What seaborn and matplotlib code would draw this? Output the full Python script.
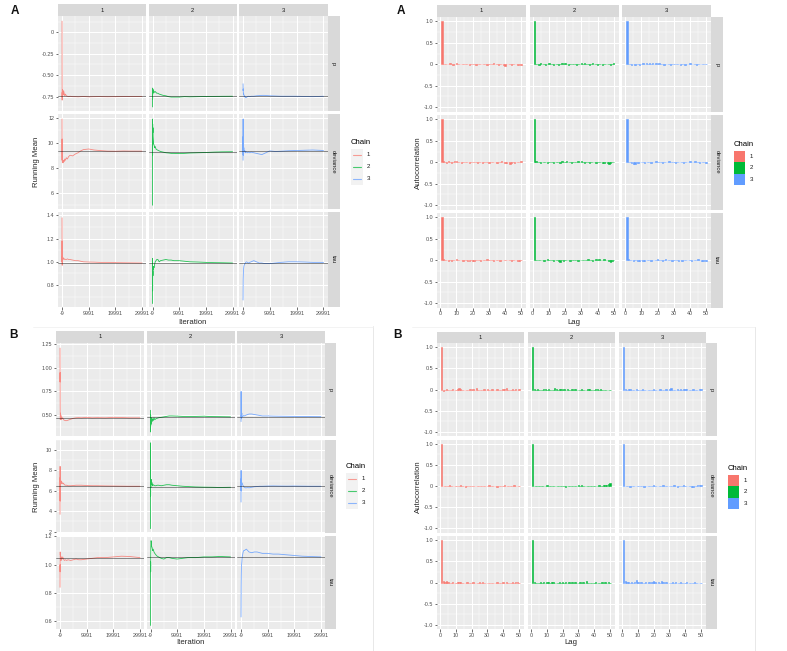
import numpy as np
import pandas as pd
import matplotlib
matplotlib.use("Agg")
import matplotlib.pyplot as plt
from matplotlib.patches import Rectangle
from matplotlib.lines import Line2D
import seaborn as sns

sns.set_theme(style="white")
plt.rcParams["font.family"] = ["Liberation Sans", "DejaVu Sans"]

W, H = 787, 651

# ---------------- data ----------------
CHAINS = ["1", "2", "3"]
PARAMS = ["p", "deviance", "tau"]
CHAIN_COLORS = ["#F8766D", "#00BA38", "#619CFF"]

ITER_TICKS = [-9, 9991, 19991, 29991]
ITER_TICK_LABELS = ["-9", "9991", "19991", "29991"]
LAG_TICKS = [0, 10, 20, 30, 40, 50]
ACF_TICKS = [-1.0, -0.5, 0.0, 0.5, 1.0]
ACF_TICK_LABELS = ["-1.0", "-0.5", "0", "0.5", "1.0"]

ITER = [1, 20, 40, 60, 100, 150, 200, 300, 400, 600, 800, 1000, 1300, 1600, 2000,
        2500, 3000, 4000, 5000, 6000, 7000, 8000, 10000, 12000, 14000, 17000, 20000,
        23000, 26000, 30000]

# ---- Panel A, running means ----
A_P_1 = [0.13, -0.40, -0.79, -0.70, -0.76, -0.72, -0.67, -0.70, -0.73, -0.68, -0.71, -0.74, -0.72, -0.74, -0.745,
         -0.75, -0.745, -0.75, -0.75, -0.752, -0.75, -0.748, -0.752, -0.75, -0.749, -0.751, -0.75, -0.749, -0.748, -0.747]
A_P_2 = [-0.87, -0.65, -0.78, -0.69, -0.72, -0.66, -0.70, -0.68, -0.70, -0.69, -0.70, -0.69, -0.70, -0.71, -0.71,
         -0.72, -0.725, -0.735, -0.74, -0.75, -0.755, -0.755, -0.755, -0.75, -0.752, -0.75, -0.748, -0.747, -0.746, -0.745]
A_P_3 = [-0.60, -0.64, -0.68, -0.66, -0.70, -0.72, -0.71, -0.73, -0.75, -0.74, -0.76, -0.755, -0.76, -0.75, -0.745,
         -0.75, -0.745, -0.745, -0.74, -0.738, -0.735, -0.735, -0.74, -0.742, -0.745, -0.745, -0.745, -0.748, -0.75, -0.745]
A_DEV_1 = [11.9, 8.6, 10.3, 9.2, 8.6, 8.4, 8.6, 8.5, 8.4, 8.6, 8.5, 8.7, 8.6, 8.8, 8.7,
           8.9, 9.0, 8.95, 9.1, 9.2, 9.35, 9.45, 9.5, 9.42, 9.38, 9.33, 9.32, 9.34, 9.33, 9.33]
A_DEV_2 = [5.0, 11.9, 9.0, 11.5, 10.8, 11.2, 10.5, 10.2, 9.9, 9.8, 9.6, 9.7, 9.5, 9.45, 9.4,
           9.35, 9.3, 9.25, 9.2, 9.18, 9.15, 9.15, 9.13, 9.15, 9.18, 9.2, 9.22, 9.25, 9.27, 9.28]
A_DEV_3 = [8.6, 11.9, 9.0, 10.5, 9.2, 9.8, 9.4, 9.6, 9.3, 9.4, 9.2, 9.3, 9.25, 9.2, 9.25,
           9.2, 9.25, 9.2, 9.15, 9.1, 9.05, 9.15, 9.35, 9.3, 9.32, 9.36, 9.38, 9.4, 9.42, 9.38]
A_TAU_1 = [1.38, 1.0, 1.18, 0.97, 1.05, 1.03, 1.04, 1.02, 1.035, 1.03, 1.02, 1.025, 1.02, 1.02, 1.025,
           1.02, 1.02, 1.015, 1.01, 1.01, 1.005, 1.0, 0.998, 0.997, 0.995, 0.995, 0.993, 0.992, 0.991, 0.99]
A_TAU_2 = [0.64, 1.03, 0.75, 0.85, 0.92, 0.88, 0.94, 0.93, 0.96, 0.95, 0.98, 1.0, 1.01, 1.02, 1.02,
           1.0, 1.01, 1.015, 1.02, 1.015, 1.015, 1.01, 1.01, 1.005, 1.0, 0.998, 0.995, 0.993, 0.992, 0.99]
A_TAU_3 = [0.67, 0.72, 0.80, 0.85, 0.88, 0.92, 0.94, 0.96, 0.97, 0.98, 0.99, 0.995, 1.0, 0.995, 0.99,
           0.995, 1.0, 1.01, 1.0, 0.99, 0.99, 0.985, 0.985, 0.99, 0.995, 1.0, 1.0, 0.998, 0.995, 0.995]
A_MEAN_P = [-0.745, -0.745, -0.745]
A_MEAN_DEV = [9.33, 9.28, 9.38]
A_MEAN_TAU = [0.99, 0.99, 0.993]

# ---- Panel B, running means ----
B_P_1 = [1.21, 0.85, 0.95, 0.60, 0.45, 0.52, 0.47, 0.50, 0.45, 0.48, 0.46, 0.47, 0.45, 0.445, 0.44,
         0.44, 0.445, 0.455, 0.465, 0.47, 0.472, 0.47, 0.475, 0.47, 0.472, 0.47, 0.475, 0.473, 0.47, 0.47]
B_P_2 = [0.55, 0.32, 0.50, 0.38, 0.46, 0.40, 0.45, 0.42, 0.47, 0.43, 0.46, 0.44, 0.47, 0.45, 0.46,
         0.465, 0.47, 0.475, 0.48, 0.485, 0.49, 0.49, 0.488, 0.485, 0.485, 0.485, 0.487, 0.483, 0.482, 0.48]
B_P_3 = [0.43, 0.75, 0.55, 0.48, 0.50, 0.46, 0.50, 0.52, 0.49, 0.48, 0.49, 0.495, 0.49, 0.495, 0.50,
         0.505, 0.51, 0.51, 0.505, 0.50, 0.495, 0.49, 0.49, 0.488, 0.487, 0.486, 0.485, 0.484, 0.483, 0.482]
B_DEV_1 = [3.7, 8.4, 5.0, 7.3, 6.9, 7.2, 6.8, 7.0, 6.7, 6.9, 6.8, 6.7, 6.75, 6.6, 6.55,
           6.55, 6.5, 6.5, 6.52, 6.55, 6.55, 6.55, 6.52, 6.5, 6.5, 6.48, 6.47, 6.46, 6.45, 6.45]
B_DEV_2 = [2.3, 10.7, 5.5, 7.1, 6.3, 7.0, 6.7, 7.1, 6.6, 6.8, 6.5, 6.6, 6.55, 6.5, 6.5,
           6.55, 6.55, 6.5, 6.55, 6.6, 6.6, 6.55, 6.5, 6.45, 6.42, 6.38, 6.36, 6.35, 6.33, 6.35]
B_DEV_3 = [4.9, 8.0, 6.0, 7.2, 6.8, 6.9, 6.6, 6.8, 6.75, 6.6, 6.5, 6.4, 6.35, 6.3, 6.3,
           6.32, 6.3, 6.35, 6.4, 6.42, 6.45, 6.45, 6.47, 6.48, 6.47, 6.46, 6.47, 6.46, 6.45, 6.45]
B_TAU_1 = [0.84, 1.0, 0.95, 1.09, 1.07, 1.08, 1.05, 1.06, 1.03, 1.05, 1.04, 1.055, 1.04, 1.03, 1.035,
           1.03, 1.035, 1.03, 1.035, 1.04, 1.035, 1.035, 1.04, 1.045, 1.05, 1.05, 1.055, 1.06, 1.058, 1.05]
B_TAU_2 = [0.57, 0.9, 1.02, 0.95, 1.10, 1.15, 1.17, 1.16, 1.13, 1.12, 1.10, 1.11, 1.09, 1.08, 1.07,
           1.06, 1.055, 1.045, 1.04, 1.05, 1.05, 1.045, 1.04, 1.045, 1.05, 1.05, 1.055, 1.055, 1.058, 1.055]
B_TAU_3 = [0.63, 0.70, 0.78, 0.85, 0.92, 0.97, 1.0, 1.02, 1.05, 1.07, 1.09, 1.10, 1.10, 1.105, 1.11,
           1.10, 1.09, 1.085, 1.09, 1.09, 1.085, 1.08, 1.08, 1.075, 1.075, 1.07, 1.065, 1.06, 1.058, 1.055]
B_MEAN_P = [0.47, 0.48, 0.482]
B_MEAN_DEV = [6.45, 6.35, 6.45]
B_MEAN_TAU = [1.05, 1.055, 1.055]

# ---- autocorrelations, lags 1..50, in hundredths ----
LAGS = list(range(1, 51))
ACF_A_P_1 = [100, 1, 0, 1, 0, 2, 0, -1, 1, 2, 1, 0, 0, 1, 0, 1, 0, -1, 0, 1, 0, -2, 0, 1, 0, 0, 1, 0, -1, 0,
             0, 1, 3, 1, 0, -1, 1, 0, -2, -4, 0, 1, 0, -1, 0, 1, 0, -1, 0, -1]
ACF_A_P_2 = [100, 1, 0, -1, 2, 0, 1, -1, 0, 2, 0, 1, -1, 0, 1, -1, 0, 2, 1, 3, 0, -1, 1, 0, 1, 0, -1, 0, 0, 2,
             1, 3, 0, 1, -1, 0, 2, 1, 0, -1, 0, 1, -1, 0, 1, 0, 0, -1, 0, 3]
ACF_A_P_3 = [100, 0, 1, -1, 0, -1, 0, 1, -1, 0, 2, 1, 3, 1, 2, 0, 3, 1, 2, 0, 2, 1, 0, -1, 0, 1, 0, -1, 0, 1,
             0, 1, 0, -1, 0, 1, -1, 0, 1, 2, 0, 1, 0, -1, 1, 0, 0, 1, 0, 1]
ACF_A_DEV_1 = [100, 2, 1, -1, 3, 0, -2, 0, 2, 3, 1, 0, -1, 0, 1, 0, 1, -1, 0, 0, 1, 0, -1, 0, 0, -1, 0, 1, 0, -1,
               0, 0, 1, 0, -1, 0, 1, 2, 0, -1, -2, 0, -3, -1, 0, -2, 0, 1, 0, 3]
ACF_A_DEV_2 = [100, 3, 1, 0, -1, 0, 1, 0, -1, 0, 1, 0, -1, 0, 1, 0, -1, 2, 0, 1, 3, 0, 1, -1, 0, 0, 1, 2, 0, 2,
               0, -1, 0, 1, -1, 0, 0, 1, -1, 0, 1, 0, -1, -2, 0, -1, -3, -2, 0, 1]
ACF_A_DEV_3 = [100, 1, 0, -1, -3, -5, 0, -1, 0, 1, 0, -1, 0, 1, 0, -1, 0, 1, 2, 0, 1, 0, -1, 0, 1, 0, 2, 0, 1, 0,
               -1, 0, 1, 0, 1, -1, 0, 1, 0, 2, 1, 0, 3, 1, 0, -1, 0, 1, 0, -1]
ACF_A_TAU_1 = [100, 2, 1, 0, -1, 0, -2, 0, 1, 2, 0, 1, 0, -1, 0, 1, -1, -2, 0, -1, -2, 0, 1, 0, -1, 0, 1, 0, 2, 0,
               1, 0, -1, 0, 1, 0, -1, 0, 1, 0, 0, 1, 0, -1, 0, 1, 0, -1, -2, 0]
ACF_A_TAU_2 = [100, 1, 0, 1, 0, 1, -1, 0, 2, 1, 0, 1, -1, 0, 0, -1, -3, 0, -1, 0, 1, 0, -1, 0, 1, 0, 0, -1, 0, 1,
               0, 1, 0, 2, 1, 0, -1, 0, 2, 1, 3, 1, 0, 2, 1, 0, -1, -3, -2, 1]
ACF_A_TAU_3 = [100, 2, 1, 0, -1, 0, 1, -1, -2, 0, -1, -2, 0, 1, 0, -1, 0, 1, 0, 2, 1, 0, -1, 1, 3, 0, 1, 0, -1, 0,
               1, 0, -1, 0, -2, 0, 1, 0, 1, 0, -1, 0, 1, 0, 2, 0, -1, -2, 0, -1]
ACF_B_P_1 = [100, -4, 0, 1, 0, -1, 0, 1, 0, -1, 1, 3, 1, 0, -1, 0, -2, 0, 1, 0, 2, -1, 3, -2, 0, -1, 0, 1, 0, 1,
             -1, 0, 1, -1, 0, 1, 0, -1, 0, 1, 2, 4, 0, -1, 0, 1, 0, 1, 0, 1]
ACF_B_P_2 = [100, 1, 0, 2, 0, -1, 0, 1, 2, 0, 1, 0, -1, 0, 4, 1, 0, 2, 1, 0, 1, 0, 1, -1, 0, 1, 0, 2, 0, -1,
             0, 1, 0, -1, 0, 2, 1, 0, -1, 0, 1, 2, 0, 1, 0, -1, -2, 0, -1, 0]
ACF_B_P_3 = [100, 1, 0, 2, 1, 0, -1, 0, 1, 0, -1, 0, 1, 0, -1, -2, 0, -1, 0, 1, 0, -1, 0, 1, 0, -1, 0, 1, 0, 1,
             3, 0, -1, 0, 1, 0, 1, 0, 1, 2, 1, 0, -1, 0, 1, 0, -1, 0, 1, 2]
ACF_B_DEV_1 = [100, 1, 0, 1, 0, 2, 0, -1, 0, 1, 0, -1, 2, 0, 1, -2, 0, 1, 0, -1, 0, 1, 0, -1, 0, 1, 0, -1, 0, 1,
               2, 0, -1, 0, 1, -2, 0, 1, 0, 1, 3, 0, -1, 0, 1, 0, 2, 0, 1, -1]
ACF_B_DEV_2 = [100, 1, 0, 1, 0, -1, 0, 1, 0, 2, 1, 0, -1, 0, 1, 0, -1, 0, 1, 0, 1, -2, 0, 1, 0, -1, 0, 1, 0, 2,
               1, 2, 0, 1, 0, -1, 1, 0, -1, 0, 1, 0, 2, 0, 1, 2, 3, 2, 4, 6]
ACF_B_DEV_3 = [100, 0, -1, 0, -2, 0, 1, 0, -1, 0, 1, 0, -1, -2, 0, -1, 0, 1, 0, 2, 1, 0, -1, 0, 1, 2, 0, 1, 0, -1,
               0, 1, 2, -1, -3, -1, 0, 1, 2, 0, -1, 0, 1, -2, -3, 0, 1, 2, 3, 2]
ACF_B_TAU_1 = [100, 3, 2, 3, 1, -1, 0, 1, -1, 0, 1, 2, 1, 0, -1, 0, 1, 0, -1, 0, 1, 0, -1, 0, 1, 0, 1, 0, -1, -2,
               -1, 0, -2, -1, 0, 1, 0, -1, 0, 1, 0, 1, 0, -1, 0, 1, 0, 1, 2, 0]
ACF_B_TAU_2 = [100, 1, 0, -1, 0, 1, 0, 1, 0, 2, 1, 0, 2, 1, 0, -1, 0, 1, 0, 1, 0, 1, 0, 1, 0, 2, 0, 1, -1, 0,
               1, 0, 1, 0, 3, 0, -1, 0, -1, 0, 1, 0, -1, 0, 1, 0, 2, 0, 1, 0]
ACF_B_TAU_3 = [100, 3, 2, 1, 0, 1, 0, 2, 5, 1, 0, 1, 0, -1, 1, 0, 1, 0, 1, 3, 1, 0, 2, 0, 3, 1, 0, 1, 0, -1,
               0, 1, 0, 1, 0, -1, 2, 0, -1, 0, 1, 0, -1, -2, 0, 1, 0, -2, 0, -1]

RUN_A = [[A_P_1, A_P_2, A_P_3], [A_DEV_1, A_DEV_2, A_DEV_3], [A_TAU_1, A_TAU_2, A_TAU_3]]
MEAN_A = [A_MEAN_P, A_MEAN_DEV, A_MEAN_TAU]
RUN_B = [[B_P_1, B_P_2, B_P_3], [B_DEV_1, B_DEV_2, B_DEV_3], [B_TAU_1, B_TAU_2, B_TAU_3]]
MEAN_B = [B_MEAN_P, B_MEAN_DEV, B_MEAN_TAU]
ACF_A = [[ACF_A_P_1, ACF_A_P_2, ACF_A_P_3], [ACF_A_DEV_1, ACF_A_DEV_2, ACF_A_DEV_3],
         [ACF_A_TAU_1, ACF_A_TAU_2, ACF_A_TAU_3]]
ACF_B = [[ACF_B_P_1, ACF_B_P_2, ACF_B_P_3], [ACF_B_DEV_1, ACF_B_DEV_2, ACF_B_DEV_3],
         [ACF_B_TAU_1, ACF_B_TAU_2, ACF_B_TAU_3]]

# y axes of the running-mean rows
A_YTICKS = [[-0.75, -0.5, -0.25, 0.0], [6, 8, 10, 12], [0.8, 1.0, 1.2, 1.4]]
A_YLABELS = [["-0.75", "-0.50", "-0.25", "0"], ["6", "8", "10", "12"], ["0.8", "1.0", "1.2", "1.4"]]
A_YLIMS = [(-0.917, 0.19), (4.7, 12.3), (0.61, 1.43)]
B_YTICKS = [[0.5, 0.75, 1.0, 1.25], [2, 4, 6, 8, 10], [0.6, 0.8, 1.0, 1.2]]
B_YLABELS = [["0.50", "0.75", "1.00", "1.25"], ["2", "4", "6", "8", "10"], ["0.6", "0.8", "1.0", "1.2"]]
B_YLIMS = [(0.277, 1.264), (1.92, 11.03), (0.545, 1.203)]

# ---------------- drawing ----------------
fig = plt.figure(figsize=(W / 100, H / 100), dpi=100)
fig.patch.set_facecolor("white")

ov = fig.add_axes([0, 0, 1, 1], zorder=5)
ov.set_xlim(0, W)
ov.set_ylim(H, 0)
ov.axis("off")
ov.patch.set_alpha(0)

TICK_FS = 3.9
STRIP_FS = 4.2
TITLE_FS = 5.6


def px_axes(x0, y0, x1, y1):
    return fig.add_axes([x0 / W, 1 - y1 / H, (x1 - x0) / W, (y1 - y0) / H])


def minors(ticks, lim):
    step = ticks[1] - ticks[0]
    cand = [t - step / 2 for t in ticks] + [ticks[-1] + step / 2]
    return [c for c in cand if lim[0] <= c <= lim[1]]


def style_panel(ax, xlim, ylim, xticks, yticks, xlabels, ylabels, show_x, show_y):
    ax.set_facecolor("#EBEBEB")
    for s in ax.spines.values():
        s.set_visible(False)
    ax.set_xlim(xlim)
    ax.set_ylim(ylim)
    ax.set_xticks(xticks)
    ax.set_yticks(yticks)
    ax.set_xticks(minors(xticks, xlim), minor=True)
    ax.set_yticks(minors(yticks, ylim), minor=True)
    ax.set_xticklabels(xlabels if show_x else [])
    ax.set_yticklabels(ylabels if show_y else [])
    ax.grid(which="major", color="white", lw=0.75)
    ax.grid(which="minor", color="white", lw=0.35)
    ax.set_axisbelow(True)
    ax.tick_params(which="major", length=1.8, width=0.5, color="#333333",
                   labelsize=TICK_FS, labelcolor="#4D4D4D", pad=1,
                   bottom=show_x, left=show_y)
    ax.tick_params(which="minor", length=0)
    ax.set_xlabel("")
    ax.set_ylabel("")
    if ax.get_legend() is not None:
        ax.get_legend().remove()


def strips(cols, rows, top, right):
    for j, (x0, x1) in enumerate(cols):
        ov.add_patch(Rectangle((x0, top[0]), x1 - x0, top[1] - top[0], fc="#D9D9D9", ec="none"))
        ov.text((x0 + x1) / 2, (top[0] + top[1]) / 2, CHAINS[j], ha="center", va="center",
                fontsize=STRIP_FS, color="#1A1A1A")
    for i, (y0, y1) in enumerate(rows):
        ov.add_patch(Rectangle((right[0], y0), right[1] - right[0], y1 - y0, fc="#D9D9D9", ec="none"))
        ov.text((right[0] + right[1]) / 2, (y0 + y1) / 2, PARAMS[i], ha="center", va="center",
                fontsize=STRIP_FS, color="#1A1A1A", rotation=270)


def running_panel(cols, rows, top, right, runs, means, yticks, ylabels, ylims, xlim):
    strips(cols, rows, top, right)
    for i, (y0, y1) in enumerate(rows):
        for j, (x0, x1) in enumerate(cols):
            ax = px_axes(x0, y0, x1, y1)
            df = pd.DataFrame({"Iteration": ITER, "Running Mean": runs[i][j]})
            sns.lineplot(data=df, x="Iteration", y="Running Mean", ax=ax, color=CHAIN_COLORS[j],
                         lw=0.6, alpha=0.85, sort=False)
            ax.axhline(means[i][j], color="black", alpha=0.5, lw=0.6)
            style_panel(ax, xlim, ylims[i], ITER_TICKS, yticks[i], ITER_TICK_LABELS, ylabels[i],
                        i == len(rows) - 1, j == 0)


def acf_panel(cols, rows, top, right, acfs):
    strips(cols, rows, top, right)
    for i, (y0, y1) in enumerate(rows):
        for j, (x0, x1) in enumerate(cols):
            ax = px_axes(x0, y0, x1, y1)
            df = pd.DataFrame({"Lag": LAGS, "Autocorrelation": np.array(acfs[i][j]) / 100.0})
            sns.barplot(data=df, x="Lag", y="Autocorrelation", ax=ax, native_scale=True,
                        color=CHAIN_COLORS[j], saturation=1, width=0.9, errorbar=None,
                        edgecolor=CHAIN_COLORS[j], linewidth=0.4)
            style_panel(ax, (-1.95, 52.95), (-1.1, 1.1), LAG_TICKS, ACF_TICKS,
                        [str(t) for t in LAG_TICKS], ACF_TICK_LABELS, i == len(rows) - 1, j == 0)


def line_legend(x, y):
    ov.text(x, y, "Chain", ha="left", va="center", fontsize=TITLE_FS, color="black")
    for k in range(3):
        cy = y + 12 + 12 * k
        ov.add_patch(Rectangle((x, cy - 6), 11.5, 12, fc="#F2F2F2", ec="none", zorder=1))
        ov.add_line(Line2D([x + 1.5, x + 10], [cy, cy], color=CHAIN_COLORS[k], lw=0.8,
                           alpha=0.7, zorder=3))
        ov.text(x + 16, cy, CHAINS[k], ha="left", va="center", fontsize=4.4, color="#1A1A1A")


def box_legend(x, y):
    ov.text(x, y, "Chain", ha="left", va="center", fontsize=TITLE_FS, color="black")
    for k in range(3):
        cy = y + 12.5 + 11.3 * k
        ov.add_patch(Rectangle((x, cy - 5.6), 10.5, 11.3, fc=CHAIN_COLORS[k], ec="none"))
        ov.text(x + 15.5, cy, CHAINS[k], ha="left", va="center", fontsize=4.4, color="#1A1A1A")


# faint borders of the sub-images
ov.plot([373, 373], [326, 651], color="#E4E4E4", lw=0.6)
ov.plot([33, 373], [327, 327], color="#EEEEEE", lw=0.5)
ov.plot([412, 755], [327, 327], color="#EEEEEE", lw=0.5)
ov.plot([755, 755], [327, 651], color="#E4E4E4", lw=0.6)

# Panel A, left: running means
running_panel(cols=[(58, 146), (148.5, 236.5), (239, 327.5)],
              rows=[(16, 111), (114, 209), (212, 307)],
              top=(4, 16), right=(327.5, 339.5),
              runs=RUN_A, means=MEAN_A, yticks=A_YTICKS, ylabels=A_YLABELS, ylims=A_YLIMS,
              xlim=(-1510, 31490))
# Panel A, right: autocorrelation
acf_panel(cols=[(437, 526), (529.5, 618.5), (622, 711)],
          rows=[(17, 111.5), (115, 209.5), (213, 307.5)],
          top=(5, 17), right=(711, 722.5), acfs=ACF_A)
# Panel B, left
running_panel(cols=[(56, 144), (146.5, 234.5), (237, 325)],
              rows=[(343, 436), (439.5, 532.5), (536, 629)],
              top=(331, 343), right=(325, 336),
              runs=RUN_B, means=MEAN_B, yticks=B_YTICKS, ylabels=B_YLABELS, ylims=B_YLIMS,
              xlim=(-1510, 31490))
# Panel B, right
acf_panel(cols=[(437, 523.5), (528, 614.5), (619, 705.5)],
          rows=[(343, 436), (439.5, 532.5), (536, 629)],
          top=(332, 343), right=(705.5, 717), acfs=ACF_B)

# axis titles
ov.text(192, 322, "Iteration", ha="center", va="center", fontsize=TITLE_FS)
ov.text(190, 643, "Iteration", ha="center", va="center", fontsize=TITLE_FS)
ov.text(574, 323, "Lag", ha="center", va="center", fontsize=TITLE_FS)
ov.text(571, 643, "Lag", ha="center", va="center", fontsize=TITLE_FS)
ov.text(36, 162, "Running Mean", ha="center", va="center", fontsize=TITLE_FS, rotation=90)
ov.text(36, 487, "Running Mean", ha="center", va="center", fontsize=TITLE_FS, rotation=90)
ov.text(418, 163, "Autocorrelation", ha="center", va="center", fontsize=TITLE_FS, rotation=90)
ov.text(418, 487, "Autocorrelation", ha="center", va="center", fontsize=TITLE_FS, rotation=90)

# legends
line_legend(351, 143)
box_legend(734, 144)
line_legend(346, 467)
box_legend(728, 468)

# panel letters
for (lx, ly, lab) in [(15, 11, "A"), (401, 11, "A"), (14, 335, "B"), (398, 335, "B")]:
    ov.text(lx, ly, lab, ha="center", va="center", fontsize=8.5, fontweight="bold", color="#111111")

fig.savefig("out.png", dpi=100)
